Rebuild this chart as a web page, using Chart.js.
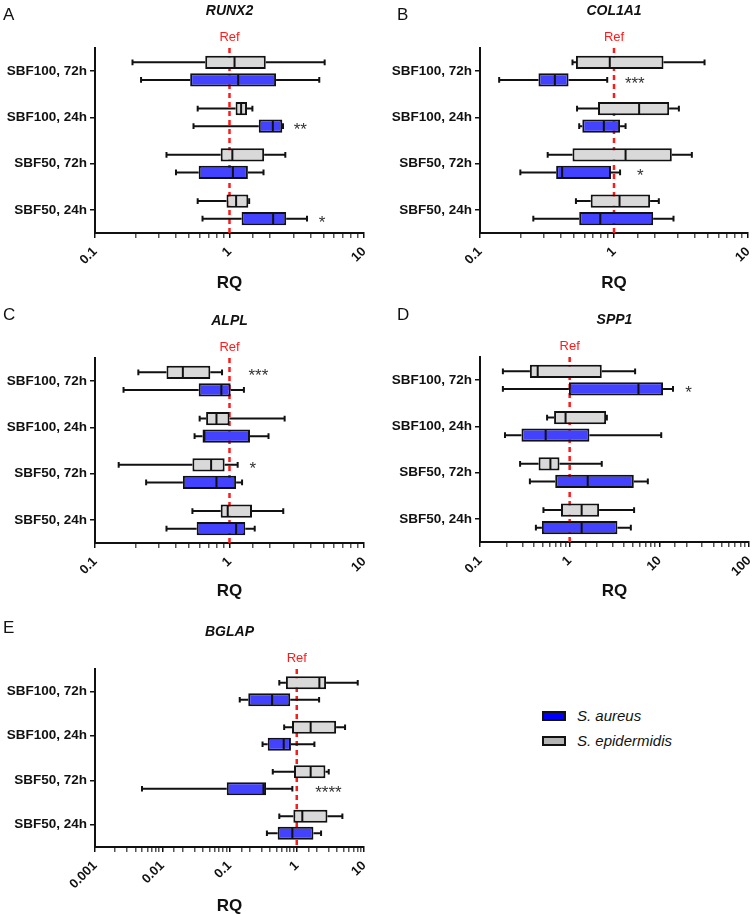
<!DOCTYPE html>
<html>
<head>
<meta charset="utf-8">
<script src="https://cdn.jsdelivr.net/npm/chart.js@4.4.0/dist/chart.umd.min.js"></script>
<style>
  body { margin: 0; background: #fff; }
  #page { position: relative; width: 755px; height: 914px; font-family: "Liberation Sans", Arial, sans-serif; }
  .panel { position: absolute; }
  .legend { position: absolute; left: 542px; top: 703px; }
  .legend div { height: 25px; display: flex; align-items: center; font-style: italic; font-size: 15px; color: #111; }
  .legend span { display: inline-block; width: 20px; height: 6px; border: 2px solid #111; margin-right: 11px; }
</style>
</head>
<body>
<div id="page">
  <div class="panel" style="left:0;top:0"><canvas id="chartA" width="375" height="300"></canvas></div>
  <div class="panel" style="left:375px;top:0"><canvas id="chartB" width="380" height="300"></canvas></div>
  <div class="panel" style="left:0;top:300px"><canvas id="chartC" width="375" height="300"></canvas></div>
  <div class="panel" style="left:375px;top:300px"><canvas id="chartD" width="380" height="300"></canvas></div>
  <div class="panel" style="left:0;top:600px"><canvas id="chartE" width="375" height="314"></canvas></div>
  <div class="legend">
    <div><span style="background:#0000ff"></span>S. aureus</div>
    <div><span style="background:#b4b4b4"></span>S. epidermidis</div>
  </div>
</div>
<script>
// rows: SBF100 72h, SBF100 24h, SBF50 72h, SBF50 24h
// each box: [min, q1, median, q3, max]
const categories = ['SBF100, 72h', 'SBF100, 24h', 'SBF50, 72h', 'SBF50, 24h'];

const runx2Epi = [[0.19, 0.66, 1.09, 1.86, 5.1], [0.58, 1.11, 1.22, 1.35, 1.48], [0.34, 0.86, 1.05, 1.81, 2.6], [0.58, 0.95, 1.12, 1.38, 1.40]];
const runx2Aureus = [[0.22, 0.51, 1.16, 2.22, 4.65], [0.54, 1.65, 2.1, 2.47, 2.5], [0.40, 0.59, 1.06, 1.37, 1.79], [0.63, 1.23, 2.11, 2.64, 3.77]];

const col1a1Epi = [[0.49, 0.52, 0.93, 2.34, 4.74], [0.53, 0.76, 1.54, 2.58, 3.05], [0.32, 0.49, 1.22, 2.70, 3.81], [0.52, 0.67, 1.10, 1.86, 2.16]];
const col1a1Aureus = [[0.139, 0.273, 0.362, 0.458, 0.89], [0.55, 0.58, 0.84, 1.11, 1.22], [0.20, 0.37, 0.41, 0.95, 1.11], [0.25, 0.55, 0.79, 1.96, 2.78]];

const alplEpi = [[0.21, 0.34, 0.45, 0.72, 0.88], [0.60, 0.67, 0.80, 1.0, 2.57], [0.15, 0.53, 0.73, 0.92, 1.15], [0.53, 0.86, 0.97, 1.47, 2.51]];
const alplAureus = [[0.163, 0.59, 0.87, 1.02, 1.28], [0.55, 0.63, 0.65, 1.42, 1.95], [0.24, 0.45, 0.80, 1.12, 1.24], [0.34, 0.57, 1.12, 1.31, 1.54]];

const spp1Epi = [[0.18, 0.36, 0.44, 2.28, 5.37], [0.56, 0.67, 0.90, 2.55, 2.6], [0.28, 0.45, 0.61, 0.77, 2.28], [0.51, 0.80, 1.36, 2.13, 5.23]];
const spp1Aureus = [[0.18, 0.98, 5.85, 11.0, 14.2], [0.19, 0.29, 0.54, 1.66, 10.5], [0.36, 0.69, 1.59, 5.19, 7.44], [0.42, 0.49, 1.36, 3.41, 4.81]];

const bglapEpi = [[0.55, 0.69, 2.17, 2.73, 8.07], [0.65, 0.85, 1.61, 3.85, 5.23], [0.44, 0.91, 1.61, 2.67, 2.99], [0.55, 0.89, 1.21, 2.86, 4.77]];
const bglapAureus = [[0.142, 0.19, 0.43, 0.80, 2.15], [0.31, 0.37, 0.64, 0.82, 1.83], [0.005, 0.091, 0.32, 0.35, 0.86], [0.36, 0.52, 0.86, 1.77, 2.30]];

// significance marks: [row, dataset (0 = epidermidis, 1 = aureus), x value, text]
const runx2Stars = [[1, 1, 3.36, '**'], [3, 1, 4.87, '*']];
const col1a1Stars = [[0, 1, 1.43, '***'], [2, 1, 1.57, '*']];
const alplStars = [[0, 0, 1.64, '***'], [2, 0, 1.49, '*']];
const spp1Stars = [[0, 1, 21.2, '*']];
const bglapStars = [[2, 1, 2.96, '****']];

const FONT = '"Liberation Sans", Arial, sans-serif';
const INK = '#111';

const isDecade = v => Math.abs(Math.log10(v) - Math.round(Math.log10(v))) < 1e-6;
const decadeLabel = v => {
  const e = Math.round(Math.log10(v));
  return e < 0 ? Math.pow(10, e).toFixed(-e) : String(Math.pow(10, e));
};

const boxPlugin = {
  id: 'boxes',
  beforeDatasetsDraw(chart) {
    // dashed reference line at RQ = 1
    const { ctx, chartArea } = chart;
    const x = chart.scales.x.getPixelForValue(1);
    ctx.save();
    ctx.strokeStyle = '#ff1a1a';
    ctx.lineWidth = 2.5;
    ctx.setLineDash([5, 4]);
    ctx.beginPath();
    ctx.moveTo(x, chartArea.top);
    ctx.lineTo(x, chartArea.bottom);
    ctx.stroke();
    ctx.restore();
  },
  afterDatasetsDraw(chart) {
    const { ctx } = chart;
    const xs = chart.scales.x;
    ctx.save();
    ctx.strokeStyle = INK;
    ctx.lineWidth = 2;
    chart.data.datasets.forEach((ds, i) => {
      chart.getDatasetMeta(i).data.forEach((el, j) => {
        const s = ds.stats[j];
        const { y, height } = el.getProps(['y', 'height'], true);
        const p = s.map(v => xs.getPixelForValue(v));
        const cap = height * 0.22;
        ctx.beginPath();
        ctx.moveTo(p[0], y); ctx.lineTo(p[1], y);
        ctx.moveTo(p[3], y); ctx.lineTo(p[4], y);
        ctx.moveTo(p[0], y - cap); ctx.lineTo(p[0], y + cap);
        ctx.moveTo(p[4], y - cap); ctx.lineTo(p[4], y + cap);
        ctx.moveTo(p[2], y - height / 2 + 1); ctx.lineTo(p[2], y + height / 2 - 1);
        ctx.stroke();
      });
    });
    ctx.restore();
  },
  afterDraw(chart, args, opts) {
    const { ctx, chartArea } = chart;
    const xs = chart.scales.x;
    const mid = (chartArea.left + chartArea.right) / 2;
    ctx.save();
    ctx.fillStyle = INK;
    ctx.textBaseline = 'alphabetic';
    ctx.textAlign = 'left';
    ctx.font = '17px ' + FONT;
    ctx.fillText(opts.letter, opts.letterX, opts.letterY);

    ctx.textAlign = 'center';
    ctx.font = 'bold italic 14px ' + FONT;
    ctx.fillText(opts.gene, mid, chartArea.top - 33);

    ctx.fillStyle = '#ff1a1a';
    ctx.font = '13px ' + FONT;
    ctx.fillText('Ref', xs.getPixelForValue(1), chartArea.top - 7);

    ctx.fillStyle = INK;
    ctx.font = 'bold 17px ' + FONT;
    ctx.fillText('RQ', mid, chartArea.bottom + opts.rqOffset);

    ctx.fillStyle = '#333';
    ctx.font = '17px ' + FONT;
    opts.stars.forEach(([row, dsIndex, xv, text]) => {
      const el = chart.getDatasetMeta(dsIndex).data[row];
      ctx.fillText(text, xs.getPixelForValue(xv), el.y + 9);
    });
    ctx.restore();
  }
};

function makePanel(id, cfg) {
  const canvas = document.getElementById(id);
  const W = canvas.width, H = canvas.height;
  return new Chart(canvas, {
    type: 'bar',
    data: {
      labels: categories,
      datasets: [
        {
          label: 'S. epidermidis',
          stats: cfg.epi,
          data: cfg.epi.map(r => [r[1], r[3]]),
          backgroundColor: '#d9d9d9'
        },
        {
          label: 'S. aureus',
          stats: cfg.aureus,
          data: cfg.aureus.map(r => [r[1], r[3]]),
          backgroundColor: '#4242ff'
        }
      ]
    },
    options: {
      indexAxis: 'y',
      responsive: false,
      animation: false,
      layout: { padding: { left: 0, top: cfg.top, right: W - cfg.right, bottom: 0 } },
      datasets: {
        bar: {
          borderColor: INK,
          borderWidth: 2,
          borderSkipped: false,
          categoryPercentage: 0.76,
          barPercentage: 0.76
        }
      },
      plugins: {
        legend: { display: false },
        tooltip: { enabled: false },
        boxes: {
          gene: cfg.gene,
          letter: cfg.letter,
          letterX: cfg.letterX,
          letterY: cfg.letterY,
          rqOffset: cfg.rqOffset,
          stars: cfg.stars
        }
      },
      scales: {
        x: {
          type: 'logarithmic',
          min: cfg.min,
          max: cfg.max,
          border: { color: INK, width: 2 },
          grid: {
            drawOnChartArea: false,
            tickLength: 5,
            lineWidth: 1.5,
            color: c => (c.tick && isDecade(c.tick.value)) ? INK : '#555'
          },
          ticks: {
            autoSkip: false,
            minRotation: 45,
            maxRotation: 45,
            padding: 6,
            color: INK,
            font: { family: FONT, size: 13, weight: 'bold' },
            callback: v => isDecade(v) ? decadeLabel(v) : ''
          },
          afterFit: s => {
            s.height = H - cfg.bottom;
            s.paddingLeft = 0;
            s.paddingRight = 0;
          }
        },
        y: {
          border: { color: INK, width: 2 },
          grid: { drawOnChartArea: false, offset: false, tickLength: 5, lineWidth: 1.5, color: INK },
          ticks: {
            padding: 3,
            color: INK,
            font: { family: FONT, size: 13.5, weight: 'bold' }
          },
          afterFit: s => {
            s.width = cfg.left;
            s.paddingTop = 0;
            s.paddingBottom = 0;
          }
        }
      }
    },
    plugins: [boxPlugin]
  });
}

makePanel('chartA', {
  gene: 'RUNX2', letter: 'A', letterX: 3, letterY: 20,
  epi: runx2Epi, aureus: runx2Aureus, stars: runx2Stars,
  min: 0.1, max: 10, left: 95, right: 364, top: 48, bottom: 233, rqOffset: 55
});
makePanel('chartB', {
  gene: 'COL1A1', letter: 'B', letterX: 22, letterY: 20,
  epi: col1a1Epi, aureus: col1a1Aureus, stars: col1a1Stars,
  min: 0.1, max: 10, left: 105, right: 373, top: 48, bottom: 233, rqOffset: 55
});
makePanel('chartC', {
  gene: 'ALPL', letter: 'C', letterX: 3, letterY: 20,
  epi: alplEpi, aureus: alplAureus, stars: alplStars,
  min: 0.1, max: 10, left: 95, right: 364, top: 58, bottom: 243, rqOffset: 53
});
makePanel('chartD', {
  gene: 'SPP1', letter: 'D', letterX: 22, letterY: 20,
  epi: spp1Epi, aureus: spp1Aureus, stars: spp1Stars,
  min: 0.1, max: 100, left: 105, right: 374, top: 57, bottom: 242, rqOffset: 54
});
makePanel('chartE', {
  gene: 'BGLAP', letter: 'E', letterX: 3, letterY: 33,
  epi: bglapEpi, aureus: bglapAureus, stars: bglapStars,
  min: 0.001, max: 10, left: 95, right: 364, top: 69, bottom: 247, rqOffset: 64
});
</script>
</body>
</html>
